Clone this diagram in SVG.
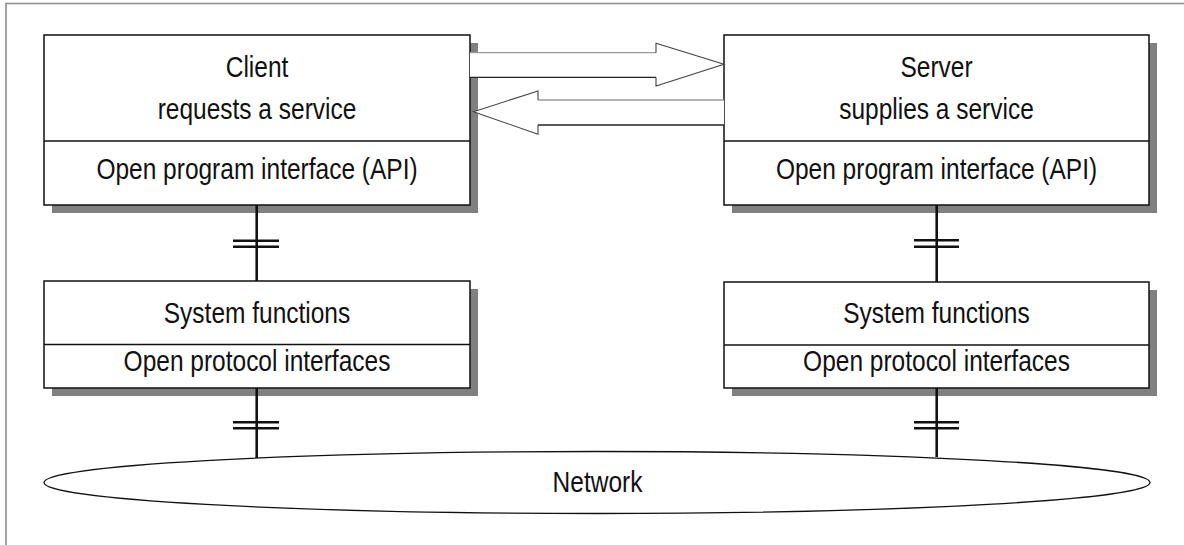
<svg xmlns="http://www.w3.org/2000/svg" width="1184" height="545" viewBox="0 0 1184 545">
<style>
.box{fill:#fff;stroke:#111;stroke-width:1.5}
.sh{fill:#808080;stroke:none}
.div{stroke:#111;stroke-width:1.3;fill:none}
.t{font-family:"Liberation Sans",Arial,Helvetica,sans-serif;font-size:24.5px;fill:#111;text-anchor:middle}
.wire{stroke:#111;stroke-width:2.6;fill:none}
.bar{stroke:#111;stroke-width:2.4;fill:none}
.afill{fill:#fff;stroke:none}
.alight{stroke:#9a9a9a;stroke-width:1.3;fill:none}
.adark{stroke:#222;stroke-width:1.3;fill:none}
.ahead{stroke:#444;stroke-width:1.1;fill:none}
</style>
<rect x="0" y="0" width="1184" height="545" fill="#fff"/>
<path d="M6,545 V3.5 H1184" fill="none" stroke="#8c8c8c" stroke-width="1.6"/>

<g id="client">
  <rect class="sh" x="52" y="43" width="426" height="170"/>
  <rect class="box" x="44" y="35" width="426" height="170"/>
  <line class="div" x1="44" y1="141" x2="470" y2="141"/>
  <text class="t" transform="translate(257,77.3) scale(1,1.18)">Client</text>
  <text class="t" transform="translate(257,119.3) scale(1,1.18)">requests a service</text>
  <text class="t" transform="translate(257,179) scale(1,1.18)">Open program interface (API)</text>
</g>

<g id="server">
  <rect class="sh" x="732" y="43" width="425" height="170"/>
  <rect class="box" x="724" y="35" width="425" height="170"/>
  <line class="div" x1="724" y1="141" x2="1149" y2="141"/>
  <text class="t" transform="translate(936.5,77.3) scale(1,1.18)">Server</text>
  <text class="t" transform="translate(936.5,119.3) scale(1,1.18)">supplies a service</text>
  <text class="t" transform="translate(936.5,179) scale(1,1.18)">Open program interface (API)</text>
</g>

<g id="client-system">
  <rect class="sh" x="52" y="289" width="426" height="107"/>
  <rect class="box" x="44" y="281" width="426" height="107"/>
  <line class="div" x1="44" y1="344.5" x2="470" y2="344.5"/>
  <text class="t" transform="translate(257,323.3) scale(1,1.18)">System functions</text>
  <text class="t" transform="translate(257,371) scale(1,1.18)">Open protocol interfaces</text>
</g>

<g id="server-system">
  <rect class="sh" x="732" y="290" width="425" height="106"/>
  <rect class="box" x="724" y="282" width="425" height="106"/>
  <line class="div" x1="724" y1="345" x2="1149" y2="345"/>
  <text class="t" transform="translate(936.5,323.3) scale(1,1.18)">System functions</text>
  <text class="t" transform="translate(936.5,371) scale(1,1.18)">Open protocol interfaces</text>
</g>

<g id="network">
  <ellipse cx="597" cy="482.5" rx="553" ry="31" fill="#fff" stroke="#111" stroke-width="1.3"/>
  <text class="t" transform="translate(597.5,492.3) scale(1,1.18)">Network</text>
</g>

<g id="connectors">
  <!-- request arrow client -> server -->
  <polygon class="afill" points="470,52.7 656,52.7 656,43.3 724,64.3 656,86 656,77.3 470,77.3"/>
  <line class="alight" x1="470" y1="52.7" x2="656" y2="52.7"/>
  <line class="adark" x1="470" y1="77.3" x2="656" y2="77.3"/>
  <polyline class="ahead" points="656,52.7 656,43.3 724,64.3 656,86 656,77.3"/>
  <!-- reply arrow server -> client -->
  <polygon class="afill" points="724,100 538,100 538,91 473.5,111.7 538,134.3 538,125 724,125"/>
  <line class="alight" x1="724" y1="100" x2="538" y2="100"/>
  <line class="adark" x1="724" y1="125" x2="538" y2="125"/>
  <polyline class="ahead" points="538,100 538,91 473.5,111.7 538,134.3 538,125"/>

  <!-- client API to system -->
  <line class="wire" x1="256.7" y1="205" x2="256.7" y2="281"/>
  <line class="bar" x1="233" y1="240.7" x2="279" y2="240.7"/>
  <line class="bar" x1="233" y1="246.7" x2="279" y2="246.7"/>
  <!-- server API to system -->
  <line class="wire" x1="936.7" y1="205" x2="936.7" y2="282"/>
  <line class="bar" x1="914" y1="240.3" x2="959" y2="240.3"/>
  <line class="bar" x1="914" y1="246.7" x2="959" y2="246.7"/>
  <!-- client system to network -->
  <line class="wire" x1="256.7" y1="388" x2="256.7" y2="458"/>
  <line class="bar" x1="233" y1="422.3" x2="279" y2="422.3"/>
  <line class="bar" x1="233" y1="428.3" x2="279" y2="428.3"/>
  <!-- server system to network -->
  <line class="wire" x1="936.7" y1="388" x2="936.7" y2="457"/>
  <line class="bar" x1="914" y1="422.3" x2="959" y2="422.3"/>
  <line class="bar" x1="914" y1="428.3" x2="959" y2="428.3"/>
</g>
</svg>
